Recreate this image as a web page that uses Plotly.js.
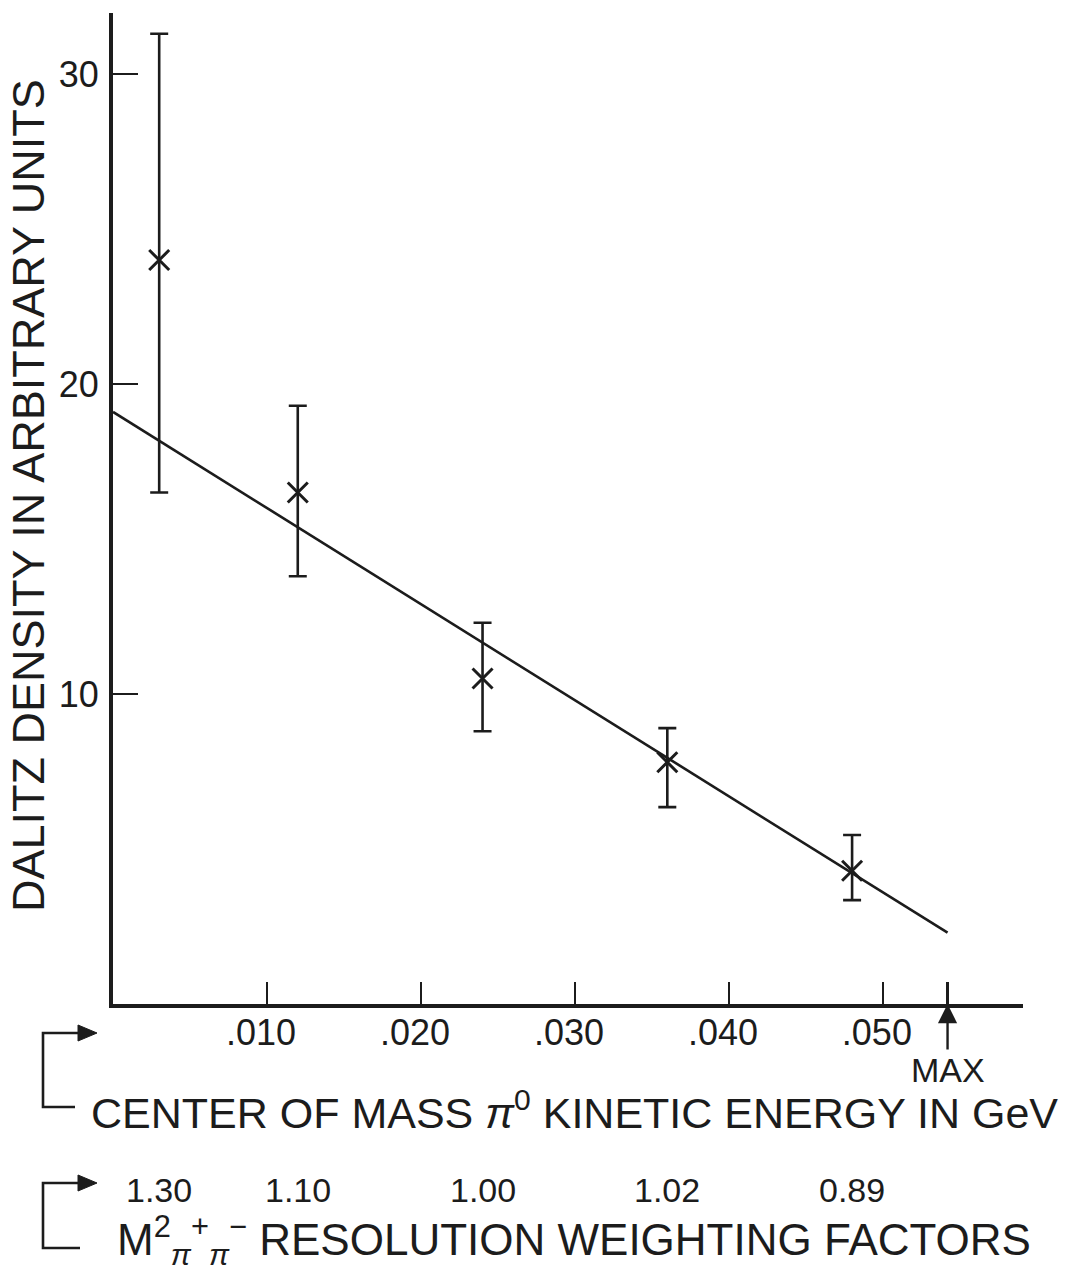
<!DOCTYPE html>
<html>
<head>
<meta charset="utf-8">
<script src="https://cdn.plot.ly/plotly-3.0.1.min.js"></script>
<style>
  html, body { margin: 0; padding: 0; background: #ffffff; }
  #chart { width: 1069px; height: 1274px; }
</style>
</head>
<body>
<div id="chart"></div>
<script>
// ---- data ----
const energyGeV   = [0.003, 0.012, 0.024, 0.036, 0.048];
const density     = [24.0, 16.5, 10.5, 7.8, 4.3];
const errPlus     = [7.3, 2.8, 1.8, 1.1, 1.15];
const errMinus    = [7.5, 2.7, 1.7, 1.45, 0.95];
const fitX        = [0, 0.0542];
const fitY        = [19.1, 2.3];
const maxEnergy   = 0.0542;
const weightLabels = ["1.30", "1.10", "1.00", "1.02", "0.89"];
const xTickVals   = [0.010, 0.020, 0.030, 0.040, 0.050];
const xTickText   = [".010", ".020", ".030", ".040", ".050"];
const yTickVals   = [10, 20, 30];
const yTickText   = ["10", "20", "30"];

// ---- layout geometry (pixels) ----
const W = 1069, H = 1274;
const M = { l: 113, r: 46, t: 13, b: 270 };
const PW = W - M.l - M.r, PH = H - M.t - M.b;
const px2x = p => (p - M.l) / PW;
const py2y = p => (H - M.b - p) / PH;

const ink = '#1c1c1c';
const FONT = 'Liberation Sans, Arial, sans-serif';

const traces = [
  {
    x: fitX, y: fitY, mode: 'lines', type: 'scatter',
    line: { color: ink, width: 2.6 }, hoverinfo: 'skip', showlegend: false
  },
  {
    x: energyGeV, y: density, mode: 'markers', type: 'scatter',
    marker: { symbol: 'x-thin', size: 20, color: ink, line: { color: ink, width: 3 } },
    error_y: { type: 'data', symmetric: false, array: errPlus, arrayminus: errMinus,
               color: ink, thickness: 2.6, width: 9 },
    showlegend: false
  }
];

function bracket(yTop, yBot, xBot) {
  return [
    { type: 'path', xref: 'paper', yref: 'paper',
      path: `M ${px2x(81)},${py2y(yTop)} L ${px2x(43)},${py2y(yTop)} L ${px2x(43)},${py2y(yBot)} L ${px2x(xBot)},${py2y(yBot)}`,
      line: { color: ink, width: 2.6 } },
    { type: 'path', xref: 'paper', yref: 'paper',
      path: `M ${px2x(78)},${py2y(yTop - 8)} L ${px2x(97)},${py2y(yTop)} L ${px2x(78)},${py2y(yTop + 8)} Z`,
      fillcolor: ink, line: { color: ink, width: 1 } }
  ];
}

const annotations = [
  { xref: 'paper', yref: 'paper', x: px2x(28), y: py2y(496), textangle: -90,
    text: 'DALITZ DENSITY IN ARBITRARY UNITS', showarrow: false,
    xanchor: 'center', yanchor: 'middle', font: { family: FONT, size: 45, color: ink } },
  { xref: 'paper', yref: 'paper', x: px2x(89), y: py2y(1110),
    text: 'CENTER OF MASS <i>π</i><sup>0</sup> KINETIC ENERGY IN GeV', showarrow: false,
    xanchor: 'left', yanchor: 'middle', font: { family: FONT, size: 43, color: ink } },
  { xref: 'paper', yref: 'paper', x: px2x(115), y: py2y(1240),
    text: 'M<sup>2</sup><sub><span style="font-size:30px"><i>π</i></span></sub><sup>+</sup><sub><span style="font-size:30px"><i>π</i></span></sub><sup>−</sup> RESOLUTION WEIGHTING FACTORS',
    showarrow: false, xanchor: 'left', yanchor: 'middle',
    font: { family: FONT, size: 44, color: ink } },
  { x: maxEnergy, y: 0, xref: 'x', yref: 'y', text: 'MAX', showarrow: true,
    ax: 0, ay: 66, arrowhead: 2, arrowsize: 1.6, arrowwidth: 2.4, arrowcolor: ink,
    font: { family: FONT, size: 34, color: ink } }
];
weightLabels.forEach((t, i) => {
  annotations.push({ x: energyGeV[i], xref: 'x', yref: 'paper', y: py2y(1190),
    text: t, showarrow: false, xanchor: 'center', yanchor: 'middle',
    font: { family: FONT, size: 34, color: ink } });
});

const layout = {
  width: W, height: H,
  margin: M,
  paper_bgcolor: '#ffffff', plot_bgcolor: '#ffffff',
  showlegend: false,
  xaxis: {
    range: [0, 0.0591], showgrid: false, zeroline: false,
    showline: true, linecolor: ink, linewidth: 4,
    ticks: 'inside', ticklen: 22, tickwidth: 2.6, tickcolor: ink,
    tickvals: xTickVals.concat([maxEnergy]), ticktext: xTickText.concat(['']),
    tickfont: { family: FONT, size: 36, color: ink },
    ticklabelshift: -6, ticklabelstandoff: -6
  },
  yaxis: {
    range: [0, 31.97], showgrid: false, zeroline: false,
    showline: true, linecolor: ink, linewidth: 4,
    ticks: 'inside', ticklen: 25, tickwidth: 2.6, tickcolor: ink,
    tickvals: yTickVals, ticktext: yTickText,
    tickfont: { family: FONT, size: 36, color: ink },
    ticklabelstandoff: 3
  },
  shapes: [].concat(bracket(1033, 1107, 75), bracket(1183, 1248, 80)),
  annotations: annotations
};

Plotly.newPlot('chart', traces, layout, { staticPlot: true, displayModeBar: false });
</script>
</body>
</html>
